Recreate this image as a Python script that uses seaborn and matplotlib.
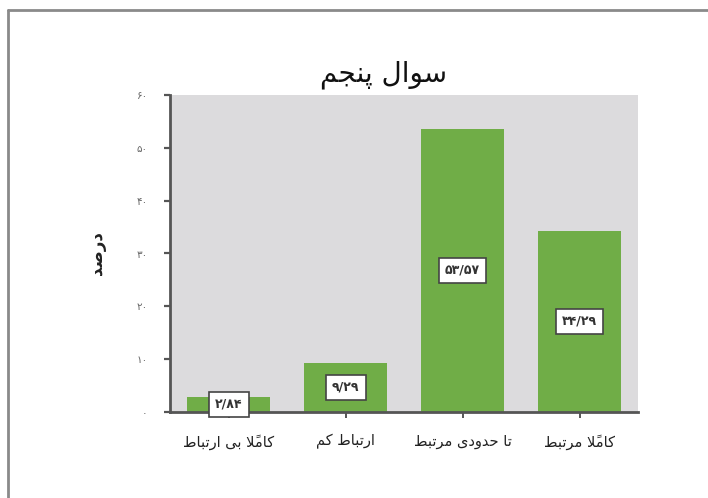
import matplotlib
matplotlib.use("Agg")
import matplotlib.pyplot as plt
from matplotlib.lines import Line2D
import seaborn as sns
import pandas as pd

# ---- data ----
categories = ["کاملاً بی ارتباط", "ارتباط کم", "تا حدودی مرتبط", "کاملاً مرتبط"]
percent = [2.84, 9.29, 53.57, 34.29]
y_ticks = [0, 10, 20, 30, 40, 50, 60]
title_text = "سوال پنجم"
ylabel_text = "درصد"

# ---- minimal Arabic-script shaping (matplotlib has no contextual shaping / bidi) ----
DUAL = {
    "ب": (0xFE8F, 0xFE90, 0xFE91, 0xFE92), "ت": (0xFE95, 0xFE96, 0xFE97, 0xFE98),
    "ج": (0xFE9D, 0xFE9E, 0xFE9F, 0xFEA0), "ح": (0xFEA1, 0xFEA2, 0xFEA3, 0xFEA4),
    "س": (0xFEB1, 0xFEB2, 0xFEB3, 0xFEB4), "ص": (0xFEB9, 0xFEBA, 0xFEBB, 0xFEBC),
    "ط": (0xFEC1, 0xFEC2, 0xFEC3, 0xFEC4), "ل": (0xFEDD, 0xFEDE, 0xFEDF, 0xFEE0),
    "م": (0xFEE1, 0xFEE2, 0xFEE3, 0xFEE4), "ن": (0xFEE5, 0xFEE6, 0xFEE7, 0xFEE8),
    "پ": (0xFB56, 0xFB57, 0xFB58, 0xFB59), "ک": (0xFB8E, 0xFB8F, 0xFB90, 0xFB91),
    "ی": (0xFBFC, 0xFBFD, 0xFBFE, 0xFBFF),
}
RIGHT = {
    "ا": (0xFE8D, 0xFE8E), "د": (0xFEA9, 0xFEAA), "ر": (0xFEAD, 0xFEAE),
    "و": (0xFEED, 0xFEEE), "لا": (0xFEFB, 0xFEFC),
}
MARKS = {"\u064B"}


def shape(text):
    clusters = []
    for ch in text:
        if ch in MARKS and clusters:
            clusters[-1][1] += ch
        else:
            clusters.append([ch, ""])
    merged = []
    i = 0
    while i < len(clusters):
        base, marks = clusters[i]
        if base == "ل" and not marks and i + 1 < len(clusters) and clusters[i + 1][0] == "ا":
            merged.append(["لا", clusters[i + 1][1]])
            i += 2
        else:
            merged.append([base, marks])
            i += 1

    def joining(c):
        return c in DUAL or c in RIGHT

    out = []
    for k, (base, marks) in enumerate(merged):
        if not joining(base):
            out.append(base + marks)
            continue
        prev_joins = k > 0 and merged[k - 1][0] in DUAL
        next_joins = base in DUAL and k + 1 < len(merged) and joining(merged[k + 1][0])
        if base in DUAL:
            iso, fin, ini, med = DUAL[base]
            cp = med if (prev_joins and next_joins) else fin if prev_joins else ini if next_joins else iso
        else:
            iso, fin = RIGHT[base]
            cp = fin if prev_joins else iso
        out.append(chr(cp) + marks)
    return "".join(reversed(out))


PERSIAN_DIGITS = str.maketrans("0123456789.", "۰۱۲۳۴۵۶۷۸۹/")


def fa_num(v, fmt="{:.2f}"):
    return fmt.format(v).translate(PERSIAN_DIGITS)


# ---- figure ----
sns.set_style("white")
plt.rcParams["font.family"] = ["DejaVu Sans"]

fig = plt.figure(figsize=(7.08, 4.98), dpi=100)
ax = fig.add_axes([170 / 708, 86 / 498, 468 / 708, 317 / 498])

df = pd.DataFrame({"category": [shape(c) for c in categories], "percent": percent})
sns.barplot(data=df, x="category", y="percent", color="#70ad47", saturation=1,
            width=0.71, linewidth=0, ax=ax)

ax.set_facecolor("#dcdbdd")
ax.set_xlim(-0.5, 3.5)
ax.set_ylim(0, 60)
ax.set_yticks(y_ticks)
ax.set_yticklabels([fa_num(t, "{:d}") for t in y_ticks], fontsize=7.5, color="#666666")
ax.tick_params(axis="y", direction="out", length=4, width=1.6, color="#555555", left=True, pad=12)
ax.tick_params(axis="x", direction="out", length=4, width=1.4, color="#555555", bottom=True,
               pad=12, labelsize=10.5, labelcolor="#222222")
ax.set_xlabel("")
ax.set_ylabel(shape(ylabel_text), fontsize=12, fontweight="bold", labelpad=22, color="#222222")

for side in ("top", "right"):
    ax.spines[side].set_visible(False)
for side in ("left", "bottom"):
    ax.spines[side].set_color("#555555")
    ax.spines[side].set_linewidth(2)

ax.bar_label(ax.containers[0], labels=[fa_num(v) for v in percent], label_type="center",
             fontsize=9, fontweight="bold", color="#333333",
             bbox=dict(facecolor="white", edgecolor="#444444", linewidth=1.2,
                       boxstyle="square,pad=0.5"))

fig.text(383 / 708, 1 - 75 / 498, shape(title_text), ha="center", va="center",
         fontsize=20, color="#111111")

# outer frame along the top and left edges
fig.add_artist(Line2D([7.5 / 708, 7.5 / 708], [0, 1 - 10.5 / 498], transform=fig.transFigure,
                      color="#8a8a8a", linewidth=2))
fig.add_artist(Line2D([7.5 / 708, 1], [1 - 10.5 / 498, 1 - 10.5 / 498], transform=fig.transFigure,
                      color="#8a8a8a", linewidth=2))

fig.savefig("out.png", dpi=100, facecolor="white")
